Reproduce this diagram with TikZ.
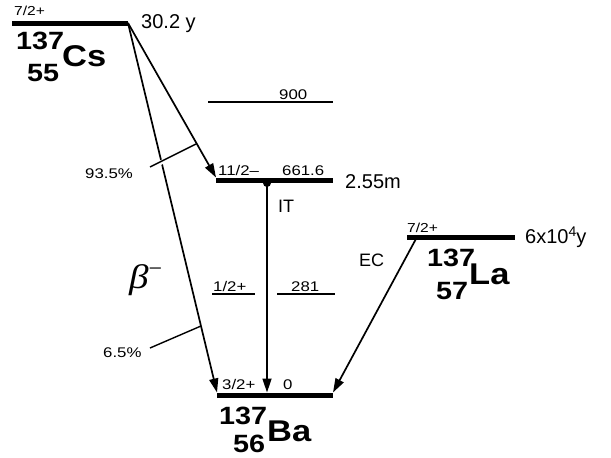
\documentclass[tikz,border=0pt]{standalone}
\usepackage{fontspec}
\usepackage{graphicx}
\setmainfont{Liberation Sans}
\newfontfamily\serifgr{Liberation Serif}
\usetikzlibrary{arrows.meta}
\newcommand\lbl[2]{\scalebox{1.0}[1]{\fontsize{#1}{#1}\selectfont #2}}
\newcommand\slbl[2]{\scalebox{1.2}[1]{\fontsize{#1}{#1}\selectfont #2}}
\newcommand\blbl[2]{\scalebox{1.15}[1]{\fontsize{#1}{#1}\selectfont\bfseries #2}}
\begin{document}
\begin{tikzpicture}[x=1pt,y=-1pt,
  lev/.style={line width=5pt},
  thinlev/.style={line width=1.4pt},
  arr/.style={line width=1.7pt,-{Triangle[length=14pt,width=9pt]}},
  tick/.style={line width=1.4pt},
  txt/.style={anchor=base west,inner sep=0pt}]
\useasboundingbox (0,0) rectangle (611,458);
% level coordinates
\coordinate (csL) at (12,23);   \coordinate (csR) at (128,23);
\coordinate (nL) at (208,102);  \coordinate (nR) at (333,102);
\coordinate (isoL) at (216,180); \coordinate (isoR) at (333,180);
\coordinate (aL) at (212,294);  \coordinate (aR) at (255,294);
\coordinate (bL) at (277,294);  \coordinate (bR) at (335,294);
\coordinate (baL) at (217,395); \coordinate (baR) at (333,395);
\coordinate (laL) at (407,237); \coordinate (laR) at (515,237);
\coordinate (isoTip) at (216,177.5);
\coordinate (baTip1) at (217,392.5);
\coordinate (baTipIT) at (267,392.5);
\coordinate (baTipEC) at (333,392.5);
\coordinate (ecStart) at (417,237);
\coordinate (t1a) at (150,167); \coordinate (t1b) at (196,144);
\coordinate (t2a) at (150,348); \coordinate (t2b) at (201,326);
\coordinate (g1) at (156,165); \coordinate (g2) at (167.5,159.2);
% levels
\draw[lev] (csL) -- (csR);
\draw[thinlev] (nL) -- (nR);
\draw[lev] (isoL) -- (isoR);
\draw[thinlev] (aL) -- (aR);
\draw[thinlev] (bL) -- (bR);
\draw[lev] (baL) -- (baR);
\draw[lev] (laL) -- (laR);
% transitions
\draw[arr] (csR) -- (isoTip);
\draw[arr] (csR) -- (baTip1);
\node[circle,fill,inner sep=0pt,minimum size=8pt] (dot) at (267,183) {};
\draw[arr] (dot.center) -- (baTipIT);
\draw[arr] (ecStart) -- (baTipEC);
% branching ticks
\draw[white,line width=4.5pt] (g1) -- (g2);
\draw[tick] (t1a) -- (t1b);
\draw[tick] (t2a) -- (t2b);
% labels
\node[txt] (cssp) at (14,15) {\slbl{13}{7/2+}};
\node[txt] (cshl) at (141,28) {\lbl{20}{30.2 y}};
\node[txt] (csA) at (16,49) {\blbl{25}{137}};
\node[txt] (csS) at (62,66) {\blbl{30}{Cs}};
\node[txt] (csZ) at (27,81) {\blbl{25}{55}};
\node[txt] (e900) at (279,99) {\slbl{14}{900}};
\node[txt] (isosp) at (218,175) {\slbl{14}{11/2–}};
\node[txt] (isoE) at (282,175) {\slbl{14}{661.6}};
\node[txt] (isohl) at (345,188) {\lbl{20}{2.55m}};
\node[txt] (IT) at (278,212) {\lbl{18}{IT}};
\node[txt] (sp281) at (213,291) {\slbl{14}{1/2+}};
\node[txt] (e281) at (291,291) {\slbl{14}{281}};
\node[txt] (basp) at (222,389) {\slbl{14}{3/2+}};
\node[txt] (baE) at (283,389) {\slbl{14}{0}};
\node[txt] (baA) at (219,424) {\blbl{25}{137}};
\node[txt] (baS) at (267,441) {\blbl{30}{Ba}};
\node[txt] (baZ) at (233,452) {\blbl{25}{56}};
\node[txt] (lasp) at (407,232) {\slbl{13}{7/2+}};
\node[txt] (lahl) at (525,243) {\lbl{20}{6x10\raisebox{7pt}{\fontsize{14}{14}\selectfont 4}y}};
\node[txt] (laA) at (427,266) {\blbl{25}{137}};
\node[txt] (laS) at (469,284) {\blbl{30}{La}};
\node[txt] (laZ) at (436,299) {\blbl{25}{57}};
\node[txt] (EC) at (359,266) {\lbl{18}{EC}};
\node[txt] (p935) at (85,178) {\slbl{14}{93.5\%}};
\node[txt] (p65) at (103,357) {\slbl{14}{6.5\%}};
\node[txt] (beta) at (129,288) {\scalebox{1.15}[1]{\fontsize{34}{34}\selectfont\serifgr\itshape β}\raisebox{12pt}{\fontsize{24}{24}\selectfont\serifgr −}};
\end{tikzpicture}
\end{document}
